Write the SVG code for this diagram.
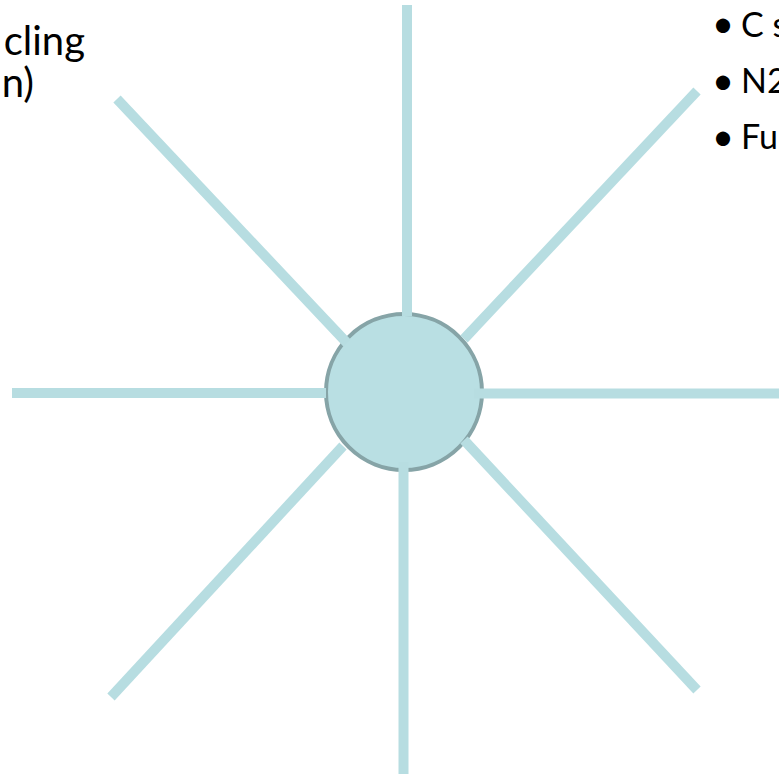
<svg xmlns="http://www.w3.org/2000/svg" width="779" height="774" viewBox="0 0 779 774">
<style>
.spoke{stroke:#b7dde1;stroke-width:10;fill:none;stroke-linecap:butt}
.lbl{font-family:Lato,"Open Sans","Liberation Sans",sans-serif;fill:#000}
.big{font-size:40px}
.med{font-size:34px}
.bul{font-size:38px}
</style>
<rect width="779" height="774" fill="#fff"/>
<g id="hub">
<circle cx="404" cy="392" r="78" fill="#b9dfe3" stroke="#86a4a7" stroke-width="4"/>
</g>
<g id="connectors">
<line class="spoke" x1="407" y1="5" x2="407" y2="316"/>
<line class="spoke" x1="403.5" y1="462" x2="403.5" y2="774"/>
<line class="spoke" x1="12" y1="393" x2="326" y2="393"/>
<line class="spoke" x1="474" y1="393.5" x2="779" y2="393.5"/>
<line class="spoke" x1="117" y1="99" x2="347" y2="343"/>
<line class="spoke" x1="697" y1="91" x2="464" y2="339"/>
<line class="spoke" x1="343" y1="446" x2="111" y2="697"/>
<line class="spoke" x1="464" y1="440" x2="697" y2="690"/>
</g>
<g id="label-left">
<text class="lbl big" x="85" y="55" text-anchor="end">cling</text>
<text class="lbl big" x="34" y="97" text-anchor="end">n)</text>
</g>
<g id="label-right">
<text class="lbl bul" x="723" y="37" text-anchor="middle">•</text>
<text class="lbl med" x="741" y="37">C s</text>
<text class="lbl bul" x="723" y="94" text-anchor="middle">•</text>
<text class="lbl med" x="741" y="93">N2</text>
<text class="lbl bul" x="723" y="150" text-anchor="middle">•</text>
<text class="lbl med" x="741" y="149">Fu</text>
</g>
</svg>
